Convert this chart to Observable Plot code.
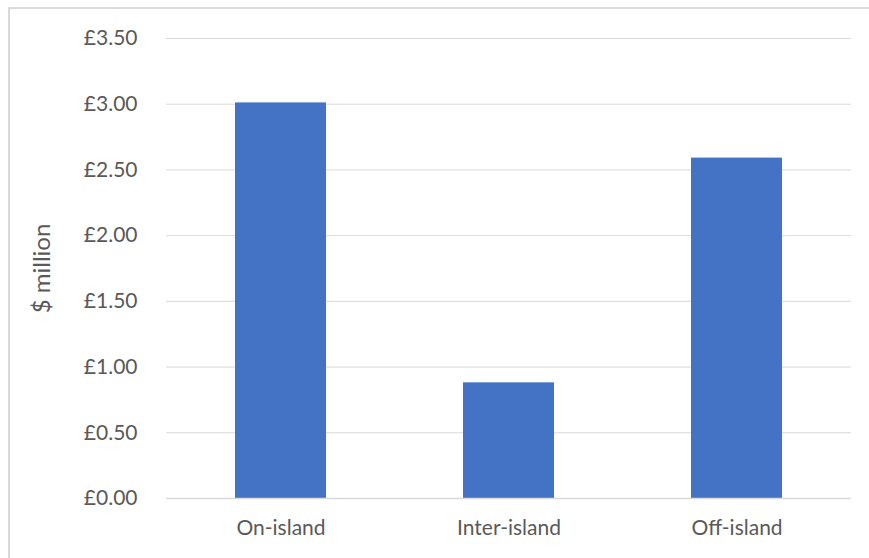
<!DOCTYPE html>
<html>
<head>
<meta charset="utf-8">
<script src="https://cdn.jsdelivr.net/npm/d3@7"></script>
<script src="https://cdn.jsdelivr.net/npm/@observablehq/plot@0.6"></script>
<style>
  html, body { margin: 0; padding: 0; background: #fff; overflow: hidden; }
  #wrap { position: relative; width: 869px; height: 558px; overflow: hidden; }
  #frame {
    position: absolute; left: 8px; top: 7px; width: 900px; height: 600px;
    border-top: 2px solid #d9d9d9; border-left: 2px solid #d9d9d9;
    box-sizing: border-box; pointer-events: none;
  }
  #chart svg { display: block; }
</style>
</head>
<body>
<div id="wrap">
  <div id="chart"></div>
  <div id="frame"></div>
</div>
<script>
// Spend by trip type
const categories = ["On-island", "Inter-island", "Off-island"];
const values = [3.01, 0.88, 2.59];
const yTicks = [0, 0.5, 1, 1.5, 2, 2.5, 3, 3.5];

const data = categories.map((c, i) => ({category: c, value: values[i]}));
const font = "Lato, 'Open Sans', sans-serif";

const chart = Plot.plot({
  width: 869,
  height: 558,
  marginLeft: 166,
  marginRight: 18,
  marginTop: 38,
  marginBottom: 60,
  style: {fontFamily: font, fontSize: "21px", color: "#595959", background: "#fff"},
  x: {domain: categories, paddingInner: 0.6, paddingOuter: 0.3, label: null},
  y: {domain: [0, 3.5], ticks: yTicks, label: null},
  marks: [
    Plot.gridY(yTicks, {stroke: "#d9d9d9", strokeOpacity: 1, strokeWidth: 1}),
    Plot.barY(data, {x: "category", y: "value", fill: "#4472c4"}),
    Plot.ruleY([0], {stroke: "#d9d9d9", strokeWidth: 1.5}),
    Plot.axisY(yTicks, {
      tickSize: 0, tickPadding: 29,
      tickFormat: d => "£" + d3.format(".2f")(d),
      fill: "#595959", fontSize: 21, label: null
    }),
    Plot.axisX({tickSize: 0, tickPadding: 22, fill: "#595959", fontSize: 21, label: null}),
    Plot.text(["$ million"], {
      frameAnchor: "left", textAnchor: "middle", dx: -124, rotate: -90,
      fill: "#595959", fontSize: 24
    })
  ]
});
document.getElementById("chart").appendChild(chart);
</script>
</body>
</html>
